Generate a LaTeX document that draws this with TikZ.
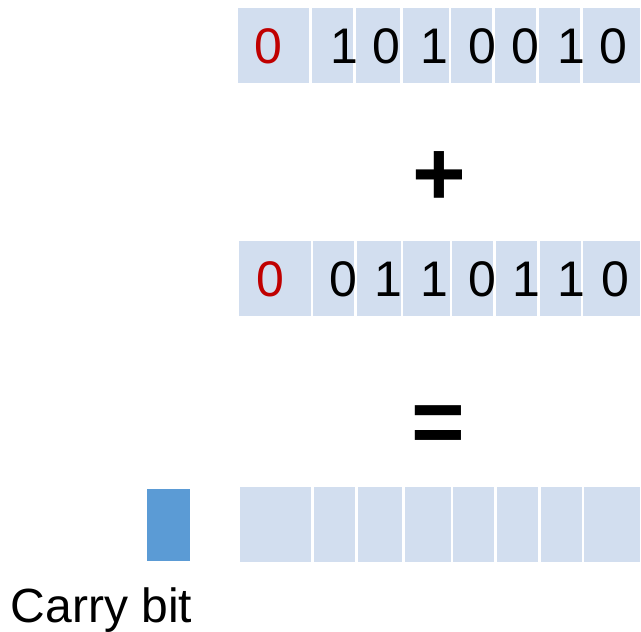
\documentclass[tikz,border=0pt]{standalone}
\usepackage{fontspec}
\setmainfont{Liberation Sans}
\definecolor{cellblue}{RGB}{210,222,239}
\definecolor{carryblue}{RGB}{91,155,213}
\definecolor{bitred}{RGB}{192,0,0}
\begin{document}
\begin{tikzpicture}[x=1pt,y=-1pt,
  cell/.style={fill=cellblue,draw=none,inner sep=0pt,minimum height=75pt},
  digit/.style={inner sep=0pt,anchor=base,font=\fontsize{50}{60}\selectfont},
  reddigit/.style={digit,text=bitred},
  opsign/.style={inner sep=0pt,anchor=base,font=\fontsize{92}{110}\selectfont\bfseries}]
\useasboundingbox (0,0) rectangle (641,632);
% row 1
\node[cell,minimum width=70.7pt] (a1) at (273.65,45.35) {};
\node[cell,minimum width=41pt] (a2) at (332.5,45.35) {};
\node[cell,minimum width=44pt] (a3) at (378,45.35) {};
\node[cell,minimum width=46pt] (a4) at (425.7,45.35) {};
\node[cell,minimum width=41pt] (a5) at (471.8,45.35) {};
\node[cell,minimum width=41pt] (a6) at (515.5,45.35) {};
\node[cell,minimum width=41pt] (a7) at (559.5,45.35) {};
\node[cell,minimum width=57.3pt] (a8) at (611.35,45.35) {};
% row 2
\node[cell,minimum width=71.4pt] (b1) at (275,278.5) {};
\node[cell,minimum width=41pt] (b2) at (333.5,278.5) {};
\node[cell,minimum width=44pt] (b3) at (379,278.5) {};
\node[cell,minimum width=47pt] (b4) at (426.5,278.5) {};
\node[cell,minimum width=41pt] (b5) at (472.5,278.5) {};
\node[cell,minimum width=41pt] (b6) at (516.5,278.5) {};
\node[cell,minimum width=40.7pt] (b7) at (560.35,278.5) {};
\node[cell,minimum width=57pt] (b8) at (611.5,278.5) {};
% row 3
\node[cell,minimum width=71pt] (c1) at (275.5,524.35) {};
\node[cell,minimum width=41pt] (c2) at (334.5,524.35) {};
\node[cell,minimum width=44pt] (c3) at (380,524.35) {};
\node[cell,minimum width=46pt] (c4) at (427.7,524.35) {};
\node[cell,minimum width=41pt] (c5) at (473.8,524.35) {};
\node[cell,minimum width=41pt] (c6) at (517.5,524.35) {};
\node[cell,minimum width=41pt] (c7) at (561.2,524.35) {};
\node[cell,minimum width=55.7pt] (c8) at (612.15,524.35) {};
% carry
\node[fill=carryblue,draw=none,inner sep=0pt,minimum width=42.7pt,minimum height=72.3pt] (carry) at (168.65,524.85) {};
% digits row 1
\node[reddigit] (d10) at (268,63.7) {0};
\node[digit] (d11) at (344.8,63.7) {1};
\node[digit] (d12) at (386.7,63.7) {0};
\node[digit] (d13) at (434.8,63.7) {1};
\node[digit] (d14) at (482,63.7) {0};
\node[digit] (d15) at (525,63.7) {0};
\node[digit] (d16) at (571.8,63.7) {1};
\node[digit] (d17) at (613,63.7) {0};
% digits row 2
\node[reddigit] (e10) at (270,296.7) {0};
\node[digit] (e11) at (343.3,296.7) {0};
\node[digit] (e12) at (388.5,296.7) {1};
\node[digit] (e13) at (434.8,296.7) {1};
\node[digit] (e14) at (482.3,296.7) {0};
\node[digit] (e15) at (526.8,296.7) {1};
\node[digit] (e16) at (571.8,296.7) {1};
\node[digit] (e17) at (615,296.7) {0};
% operators
\node[opsign] (plus) at (439,205.5) {+};
\node[opsign] (equals) at (438,453.5) {=};
% label
\node[inner sep=0pt,anchor=base west,font=\fontsize{48}{58}\selectfont] (carrylabel) at (10.6,622.7) {Carry bit};
\end{tikzpicture}
\end{document}
